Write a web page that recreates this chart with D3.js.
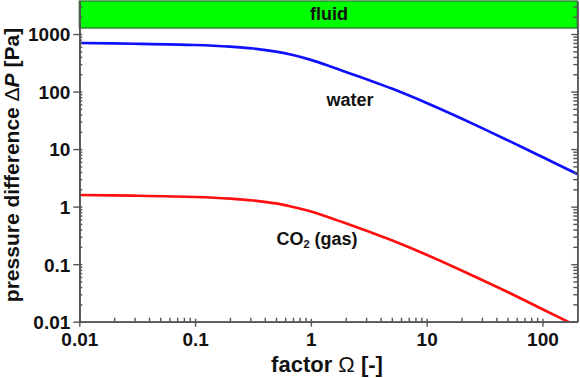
<!DOCTYPE html>
<html>
<head>
<meta charset="utf-8">
<script src="https://cdn.jsdelivr.net/npm/d3@7"></script>
<style>
  html, body { margin: 0; padding: 0; background: #fff; }
  text { font-family: "Liberation Sans", Arial, sans-serif; font-weight: bold; fill: #111; }
</style>
</head>
<body>
<svg id="chart" width="580" height="378"></svg>
<script>
// ---- data ----
const omega = [0.01, 0.03, 0.1, 0.2, 0.32, 0.5, 0.7, 1, 1.4, 2, 3.2, 5, 10, 20, 50, 100, 200];
const water = [698, 678, 644, 604, 560, 496, 432, 356, 284, 219, 157, 112.5, 63.2, 33.9, 14.3, 7.28, 3.69];
const co2   = [1.593, 1.549, 1.47, 1.379, 1.278, 1.138, 0.985, 0.823, 0.66, 0.513, 0.365, 0.26, 0.1455, 0.0776, 0.0328, 0.0165, 0.00832];
const xMajorTicks = [0.01, 0.1, 1, 10, 100];
const yMajorTicks = [0.01, 0.1, 1, 10, 100, 1000];
const xTickLabels = ["0.01", "0.1", "1", "10", "100"];
const yTickLabels = ["0.01", "0.1", "1", "10", "100", "1000"];
const fluidBand = [1270, 3750];

const svg = d3.select("#chart");
const L = 79.3, R = 577.3, T = 1, B = 321.7;

const x = d3.scaleLog().domain([0.01, 200]).range([L, R]);
const y = d3.scaleLog().domain([0.01, 3750]).range([B, T]);

function minors(lo, hi) {
  const out = [];
  for (let e = -3; e <= 4; e++) {
    for (let k = 2; k <= 9; k++) {
      const v = k * Math.pow(10, e);
      if (v > lo && v < hi) out.push(v);
    }
  }
  return out;
}
const xMinor = minors(0.01, 200);
const yMinor = minors(0.01, 3750);

// clip
svg.append("defs").append("clipPath").attr("id", "clip")
  .append("rect").attr("x", L).attr("y", T).attr("width", R - L).attr("height", B - T);

// fluid band
svg.append("rect")
  .attr("x", x(0.01)).attr("width", x(200) - x(0.01))
  .attr("y", y(fluidBand[1])).attr("height", y(fluidBand[0]) - y(fluidBand[1]))
  .attr("fill", "#00ff00").attr("stroke", "#2f7a2f").attr("stroke-width", 1.3);
svg.append("text").attr("x", 329).attr("y", 20)
  .attr("text-anchor", "middle").style("font-size", "18px").text("fluid");

// lines
const line = d3.line().x(d => x(d[0])).y(d => y(d[1])).curve(d3.curveCatmullRom.alpha(0.5));
const g = svg.append("g").attr("clip-path", "url(#clip)");
g.append("path").datum(omega.map((o, i) => [o, water[i]]))
  .attr("d", line).attr("fill", "none").attr("stroke", "#1010ff").attr("stroke-width", 2.7);
g.append("path").datum(omega.map((o, i) => [o, co2[i]]))
  .attr("d", line).attr("fill", "none").attr("stroke", "#ff1010").attr("stroke-width", 2.7);

// axes
const axColor = "#555";
function styleAxis(sel) {
  sel.selectAll("path, line").attr("stroke", axColor).attr("stroke-width", 1.4);
  sel.selectAll(".domain").attr("stroke-width", 1.6);
}
// bottom
const xb = svg.append("g").attr("transform", `translate(0,${B})`)
  .call(d3.axisBottom(x).tickValues(xMajorTicks).tickSize(5).tickSizeOuter(0)
    .tickFormat((d, i) => xTickLabels[i]));
xb.selectAll("text").style("font-size", "19px").attr("dy", "0").attr("y", 24);
styleAxis(xb);
const xbIn = svg.append("g").attr("transform", `translate(0,${B})`)
  .call(d3.axisTop(x).tickValues(xMajorTicks).tickSize(3).tickSizeOuter(0).tickFormat(""));
styleAxis(xbIn);
const xbMin = svg.append("g").attr("transform", `translate(0,${B})`)
  .call(d3.axisTop(x).tickValues(xMinor).tickSize(4).tickSizeOuter(0).tickFormat(""));
styleAxis(xbMin);

// left
const yl = svg.append("g").attr("transform", `translate(${L},0)`)
  .call(d3.axisLeft(y).tickValues(yMajorTicks).tickSize(6).tickSizeOuter(0)
    .tickFormat((d, i) => yTickLabels[i]));
yl.selectAll("text").style("font-size", "19px").attr("x", -9).attr("dy", "0.36em");
styleAxis(yl);
const ylMin = svg.append("g").attr("transform", `translate(${L},0)`)
  .call(d3.axisRight(y).tickValues(yMinor).tickSize(3).tickSizeOuter(0).tickFormat(""));
styleAxis(ylMin);
const ylIn = svg.append("g").attr("transform", `translate(${L},0)`)
  .call(d3.axisRight(y).tickValues(yMajorTicks).tickSize(3).tickSizeOuter(0).tickFormat(""));
styleAxis(ylIn);

// right
const yr = svg.append("g").attr("transform", `translate(${R},0)`)
  .call(d3.axisLeft(y).tickValues(yMajorTicks).tickSize(6).tickSizeOuter(0).tickFormat(""));
styleAxis(yr);
const yrMin = svg.append("g").attr("transform", `translate(${R},0)`)
  .call(d3.axisLeft(y).tickValues(yMinor).tickSize(4).tickSizeOuter(0).tickFormat(""));
styleAxis(yrMin);

// annotations
svg.append("text").attr("x", 350).attr("y", 106).attr("text-anchor", "middle")
  .style("font-size", "18px").text("water");
const co = svg.append("text").attr("x", 317).attr("y", 245).attr("text-anchor", "middle")
  .style("font-size", "18px");
co.append("tspan").text("CO");
co.append("tspan").text("2").style("font-size", "11px").attr("dy", 3);
co.append("tspan").text(" (gas)").attr("dy", -3);

// axis titles
const xt = svg.append("text").attr("x", 327).attr("y", 372).attr("text-anchor", "middle")
  .style("font-size", "22px");
xt.append("tspan").text("factor ");
xt.append("tspan").text("Ω").style("font-weight", "normal");
xt.append("tspan").text(" [-]");

const yt = svg.append("text").attr("transform", "translate(19,165) rotate(-90)")
  .attr("text-anchor", "middle").style("font-size", "21px");
yt.append("tspan").text("pressure difference ");
yt.append("tspan").text("Δ").style("font-weight", "normal");
yt.append("tspan").text("P").style("font-style", "italic");
yt.append("tspan").text(" [Pa]");
</script>
</body>
</html>
